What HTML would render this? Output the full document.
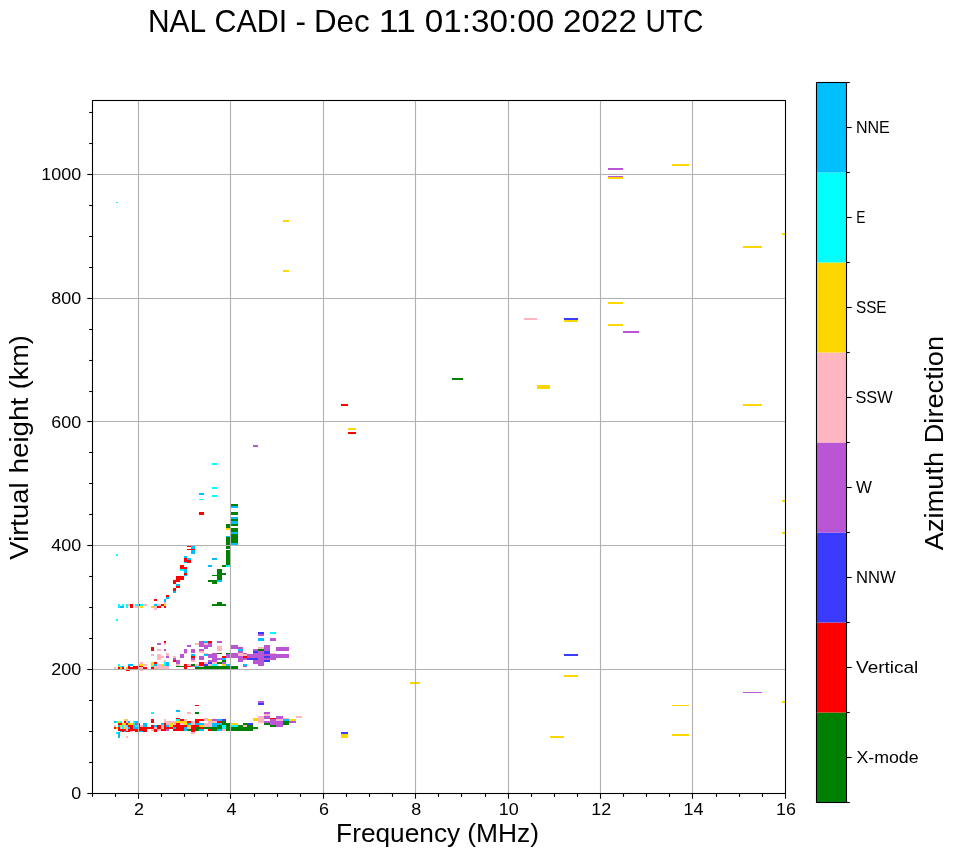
<!DOCTYPE html>
<html><head><meta charset="utf-8"><style>
html,body{margin:0;padding:0;background:#fff;width:958px;height:857px;overflow:hidden}
svg{display:block;will-change:transform}
text{font-family:"Liberation Sans",sans-serif}
</style></head><body>
<svg width="958" height="857" viewBox="0 0 958 857">
<rect width="958" height="857" fill="#fff"/>
<g shape-rendering="crispEdges"><rect x="116" y="202" width="2" height="1.3" fill="#00ffff"/><rect x="283" y="220" width="6" height="2" fill="#ffd700"/><rect x="283" y="270" width="6" height="2" fill="#ffd700"/><rect x="341" y="404" width="7" height="2" fill="#ff0000"/><rect x="348" y="428" width="8" height="2" fill="#ffd700"/><rect x="348" y="432" width="8" height="2" fill="#ff0000"/><rect x="452" y="378" width="11" height="2" fill="#008000"/><rect x="524" y="318" width="13" height="2" fill="#ffb6c1"/><rect x="564" y="318" width="14" height="2" fill="#3b3bff"/><rect x="564" y="320" width="14" height="2" fill="#ffd700"/><rect x="537" y="385" width="13" height="4" fill="#ffd700"/><rect x="608" y="168" width="15" height="2" fill="#ba55d3"/><rect x="608" y="176" width="15" height="1" fill="#ba55d3"/><rect x="608" y="177" width="15" height="2" fill="#ffd700"/><rect x="672" y="164" width="17" height="2" fill="#ffd700"/><rect x="608" y="302" width="15" height="2" fill="#ffd700"/><rect x="608" y="324" width="15" height="2" fill="#ffd700"/><rect x="623" y="331" width="16" height="2" fill="#ba55d3"/><rect x="743" y="246" width="19" height="2" fill="#ffd700"/><rect x="782" y="233" width="4" height="2" fill="#ffd700"/><rect x="743" y="404" width="19" height="2" fill="#ffd700"/><rect x="782" y="500" width="4" height="2" fill="#ffd700"/><rect x="782" y="532" width="4" height="2" fill="#ffd700"/><rect x="564" y="654" width="14" height="2" fill="#3b3bff"/><rect x="564" y="675" width="14" height="2" fill="#ffd700"/><rect x="550" y="736" width="14" height="2" fill="#ffd700"/><rect x="672" y="705" width="17" height="1.3" fill="#ffd700"/><rect x="672" y="734" width="17" height="2" fill="#ffd700"/><rect x="743" y="692" width="19" height="1.2" fill="#ba55d3"/><rect x="782" y="701" width="4" height="2" fill="#ffd700"/><rect x="410" y="682" width="10" height="2" fill="#ffd700"/><rect x="253" y="445" width="5" height="2" fill="#ba55d3"/><rect x="212" y="463" width="5" height="2" fill="#00ffff"/><rect x="212" y="487" width="5" height="2" fill="#00ffff"/><rect x="212" y="495" width="5" height="2" fill="#00ffff"/><rect x="199" y="493" width="5" height="2" fill="#00bfff"/><rect x="199" y="499" width="5" height="1.2" fill="#00ffff"/><rect x="199" y="512" width="5" height="3" fill="#ff0000"/><rect x="231" y="504" width="7" height="2" fill="#008000"/><rect x="231" y="506" width="7" height="2" fill="#00bfff"/><rect x="231" y="512" width="7" height="3" fill="#008000"/><rect x="231" y="517" width="7" height="2" fill="#00bfff"/><rect x="231" y="519" width="7" height="2" fill="#008000"/><rect x="231" y="521" width="7" height="3" fill="#00bfff"/><rect x="231" y="524" width="7" height="2" fill="#008000"/><rect x="231" y="528" width="7" height="4" fill="#008000"/><rect x="231" y="532" width="7" height="2" fill="#00bfff"/><rect x="231" y="534" width="7" height="9" fill="#008000"/><rect x="231" y="543" width="7" height="2" fill="#00bfff"/><rect x="226" y="524" width="4" height="4" fill="#008000"/><rect x="226" y="528" width="4" height="2" fill="#ffd700"/><rect x="226" y="536" width="4" height="1" fill="#00bfff"/><rect x="226" y="537" width="4" height="8" fill="#008000"/><rect x="226" y="546" width="4" height="3" fill="#008000"/><rect x="226" y="550" width="4" height="15" fill="#008000"/><rect x="226" y="565" width="4" height="2" fill="#00ffff"/><rect x="222" y="565" width="4" height="2" fill="#008000"/><rect x="208" y="565" width="4" height="2" fill="#00bfff"/><rect x="212" y="558" width="5" height="2" fill="#00bfff"/><rect x="217" y="569" width="5" height="11" fill="#008000"/><rect x="222" y="573" width="4" height="2" fill="#008000"/><rect x="212" y="575" width="5" height="1.2" fill="#008000"/><rect x="217" y="580" width="5" height="2" fill="#00bfff"/><rect x="208" y="580" width="9" height="2" fill="#008000"/><rect x="212" y="582" width="5" height="2" fill="#008000"/><rect x="187" y="546" width="4" height="1.2" fill="#ff0000"/><rect x="191" y="546" width="4" height="8" fill="#00bfff"/><rect x="187" y="549" width="8" height="1.2" fill="#ff0000"/><rect x="184" y="556" width="3" height="2" fill="#00bfff"/><rect x="184" y="558" width="3" height="4" fill="#ff0000"/><rect x="187" y="558" width="4" height="2" fill="#00bfff"/><rect x="187" y="560" width="4" height="3" fill="#ff0000"/><rect x="184" y="562" width="3" height="1" fill="#00bfff"/><rect x="180" y="565" width="4" height="4" fill="#ff0000"/><rect x="184" y="567" width="3" height="2" fill="#ff0000"/><rect x="180" y="569" width="4" height="2" fill="#00ffff"/><rect x="184" y="569" width="3" height="4" fill="#00bfff"/><rect x="184" y="573" width="3" height="2" fill="#ff0000"/><rect x="184" y="575" width="3" height="1" fill="#00bfff"/><rect x="176" y="576" width="8" height="4" fill="#ff0000"/><rect x="173" y="580" width="7" height="2" fill="#ff0000"/><rect x="173" y="582" width="3" height="2" fill="#ff0000"/><rect x="176" y="584" width="4" height="2" fill="#00bfff"/><rect x="176" y="586" width="4" height="2" fill="#ff0000"/><rect x="173" y="588" width="3" height="3" fill="#ff0000"/><rect x="173" y="591" width="3" height="2" fill="#00bfff"/><rect x="166" y="595" width="3" height="2" fill="#ff0000"/><rect x="166" y="597" width="3" height="2" fill="#00bfff"/><rect x="164" y="599" width="2" height="3" fill="#00bfff"/><rect x="164" y="602" width="2" height="2" fill="#ffb6c1"/><rect x="164" y="604" width="2" height="2" fill="#ffd700"/><rect x="164" y="606" width="2" height="2" fill="#ff0000"/><rect x="161" y="604" width="3" height="2" fill="#ff0000"/><rect x="157" y="606" width="4" height="2" fill="#ff0000"/><rect x="157" y="604" width="4" height="2" fill="#ffb6c1"/><rect x="154" y="604" width="3" height="2" fill="#00bfff"/><rect x="154" y="606" width="3" height="4" fill="#ffb6c1"/><rect x="151" y="606" width="3" height="2" fill="#ffd700"/><rect x="154" y="599" width="3" height="2" fill="#ff0000"/><rect x="143" y="604" width="4" height="2" fill="#ffb6c1"/><rect x="140" y="604" width="3" height="2" fill="#00ffff"/><rect x="139" y="604" width="1" height="2" fill="#ff0000"/><rect x="140" y="606" width="3" height="2" fill="#ffd700"/><rect x="135" y="604" width="3" height="2" fill="#00ffff"/><rect x="135" y="606" width="3" height="2" fill="#ffb6c1"/><rect x="118" y="604" width="2" height="4" fill="#00ffff"/><rect x="122" y="604" width="2" height="2" fill="#00ffff"/><rect x="120" y="606" width="4" height="2" fill="#00bfff"/><rect x="126" y="604" width="2" height="4" fill="#00ffff"/><rect x="128" y="604" width="2" height="2" fill="#ffb6c1"/><rect x="130" y="604" width="3" height="4" fill="#ff0000"/><rect x="116" y="619" width="2" height="2" fill="#00ffff"/><rect x="116" y="554" width="2" height="2" fill="#00ffff"/><rect x="212" y="604" width="14" height="2" fill="#008000"/><rect x="217" y="602" width="5" height="2" fill="#008000"/><rect x="114" y="667" width="2" height="2" fill="#ffb6c1"/><rect x="118" y="664" width="2" height="2" fill="#00ffff"/><rect x="118" y="666" width="2" height="1" fill="#ffd700"/><rect x="118" y="667" width="2" height="2" fill="#ff0000"/><rect x="120" y="666" width="2" height="1" fill="#00ffff"/><rect x="120" y="667" width="2" height="2" fill="#ffd700"/><rect x="122" y="666" width="2" height="1" fill="#00bfff"/><rect x="122" y="667" width="2" height="2" fill="#ff0000"/><rect x="126" y="667" width="2" height="2" fill="#ffd700"/><rect x="128" y="664" width="5" height="2" fill="#00bfff"/><rect x="128" y="667" width="10" height="2" fill="#ff0000"/><rect x="128" y="666" width="2" height="1" fill="#ff0000"/><rect x="133" y="666" width="5" height="1" fill="#ff0000"/><rect x="126" y="670" width="4" height="1" fill="#ff0000"/><rect x="140" y="662" width="3" height="2" fill="#ffb6c1"/><rect x="139" y="664" width="4" height="2" fill="#ffd700"/><rect x="139" y="666" width="4" height="1" fill="#ff0000"/><rect x="139" y="667" width="1" height="2" fill="#ffd700"/><rect x="140" y="667" width="3" height="2" fill="#ffb6c1"/><rect x="143" y="664" width="4" height="2" fill="#ffb6c1"/><rect x="143" y="667" width="4" height="2" fill="#ff0000"/><rect x="140" y="670" width="3" height="1" fill="#ffb6c1"/><rect x="151" y="667" width="3" height="2" fill="#ff0000"/><rect x="151" y="666" width="3" height="1" fill="#00ffff"/><rect x="151" y="662" width="3" height="4" fill="#ffd700"/><rect x="154" y="662" width="3" height="2" fill="#ff0000"/><rect x="154" y="664" width="3" height="2" fill="#00bfff"/><rect x="154" y="666" width="11" height="3" fill="#ffb6c1"/><rect x="157" y="664" width="8" height="2" fill="#ffb6c1"/><rect x="161" y="664" width="3" height="2" fill="#ffd700"/><rect x="164" y="662" width="2" height="4" fill="#00ffff"/><rect x="164" y="660" width="2" height="2" fill="#ffb6c1"/><rect x="151" y="647" width="3" height="4" fill="#ff0000"/><rect x="151" y="654" width="3" height="2" fill="#ffb6c1"/><rect x="157" y="649" width="4" height="2" fill="#ffb6c1"/><rect x="157" y="654" width="4" height="6" fill="#ffb6c1"/><rect x="161" y="656" width="3" height="2" fill="#ffb6c1"/><rect x="157" y="643" width="4" height="2" fill="#ba55d3"/><rect x="164" y="641" width="2" height="2" fill="#ff0000"/><rect x="164" y="643" width="2" height="2" fill="#ffb6c1"/><rect x="164" y="649" width="2" height="2" fill="#ba55d3"/><rect x="199" y="641" width="5" height="6" fill="#ba55d3"/><rect x="204" y="641" width="4" height="2" fill="#00bfff"/><rect x="208" y="641" width="4" height="2" fill="#ff0000"/><rect x="195" y="643" width="4" height="2" fill="#ffb6c1"/><rect x="204" y="643" width="4" height="2" fill="#ffb6c1"/><rect x="208" y="643" width="4" height="4" fill="#ba55d3"/><rect x="187" y="645" width="4" height="2" fill="#ba55d3"/><rect x="199" y="645" width="13" height="2" fill="#ba55d3"/><rect x="204" y="647" width="4" height="2" fill="#ba55d3"/><rect x="184" y="649" width="3" height="4" fill="#ba55d3"/><rect x="191" y="649" width="4" height="4" fill="#ba55d3"/><rect x="199" y="649" width="5" height="2" fill="#ba55d3"/><rect x="199" y="651" width="5" height="2" fill="#ffb6c1"/><rect x="166" y="653" width="3" height="2" fill="#ffb6c1"/><rect x="184" y="653" width="3" height="1" fill="#ffb6c1"/><rect x="204" y="653" width="4" height="1" fill="#ffb6c1"/><rect x="166" y="655" width="3" height="1" fill="#ffb6c1"/><rect x="166" y="656" width="3" height="2" fill="#ba55d3"/><rect x="173" y="656" width="3" height="2" fill="#ffb6c1"/><rect x="180" y="654" width="4" height="4" fill="#ba55d3"/><rect x="191" y="654" width="4" height="2" fill="#00bfff"/><rect x="191" y="656" width="4" height="2" fill="#ff0000"/><rect x="199" y="656" width="5" height="4" fill="#ba55d3"/><rect x="204" y="654" width="4" height="2" fill="#00bfff"/><rect x="208" y="654" width="4" height="4" fill="#ba55d3"/><rect x="212" y="653" width="5" height="9" fill="#ba55d3"/><rect x="173" y="658" width="3" height="2" fill="#ba55d3"/><rect x="173" y="660" width="3" height="2" fill="#ff0000"/><rect x="164" y="660" width="2" height="2" fill="#ffb6c1"/><rect x="176" y="660" width="4" height="4" fill="#ba55d3"/><rect x="191" y="660" width="4" height="2" fill="#ffb6c1"/><rect x="191" y="658" width="4" height="2" fill="#ba55d3"/><rect x="208" y="660" width="9" height="2" fill="#ba55d3"/><rect x="208" y="662" width="4" height="2" fill="#3b3bff"/><rect x="204" y="662" width="4" height="2" fill="#ffb6c1"/><rect x="212" y="662" width="5" height="2" fill="#ffb6c1"/><rect x="199" y="662" width="5" height="4" fill="#ff0000"/><rect x="161" y="664" width="3" height="2" fill="#ffd700"/><rect x="164" y="662" width="2" height="4" fill="#00ffff"/><rect x="166" y="662" width="3" height="4" fill="#00bfff"/><rect x="166" y="666" width="3" height="1" fill="#ff0000"/><rect x="160" y="666" width="9" height="3" fill="#ffb6c1"/><rect x="176" y="664" width="4" height="2" fill="#ffb6c1"/><rect x="176" y="666" width="8" height="1" fill="#008000"/><rect x="184" y="664" width="3" height="5" fill="#ff0000"/><rect x="187" y="664" width="4" height="2" fill="#ffb6c1"/><rect x="187" y="666" width="4" height="1" fill="#ff0000"/><rect x="191" y="664" width="4" height="2" fill="#008000"/><rect x="191" y="666" width="4" height="1" fill="#ba55d3"/><rect x="195" y="664" width="4" height="2" fill="#ffb6c1"/><rect x="195" y="666" width="4" height="1" fill="#00bfff"/><rect x="195" y="667" width="25" height="2" fill="#008000"/><rect x="199" y="666" width="5" height="1" fill="#ffb6c1"/><rect x="204" y="664" width="4" height="2" fill="#3b3bff"/><rect x="208" y="664" width="4" height="2" fill="#ffb6c1"/><rect x="212" y="664" width="5" height="2" fill="#00ffff"/><rect x="204" y="666" width="16" height="1" fill="#008000"/><rect x="217" y="666" width="3" height="1" fill="#ffb6c1"/><rect x="160" y="643" width="1" height="2" fill="#ba55d3"/><rect x="160" y="649" width="1" height="2" fill="#ffb6c1"/><rect x="217" y="641" width="5" height="2" fill="#ba55d3"/><rect x="217" y="646" width="5" height="5" fill="#ffb6c1"/><rect x="217" y="653" width="5" height="1" fill="#008000"/><rect x="215" y="653" width="2" height="9" fill="#ba55d3"/><rect x="217" y="658" width="5" height="2" fill="#ba55d3"/><rect x="222" y="656" width="4" height="2" fill="#ff0000"/><rect x="222" y="658" width="4" height="2" fill="#00bfff"/><rect x="222" y="660" width="4" height="2" fill="#008000"/><rect x="222" y="662" width="4" height="2" fill="#ba55d3"/><rect x="217" y="662" width="5" height="2" fill="#008000"/><rect x="215" y="662" width="2" height="2" fill="#ffb6c1"/><rect x="215" y="664" width="2" height="2" fill="#00ffff"/><rect x="217" y="666" width="5" height="1" fill="#ffb6c1"/><rect x="222" y="664" width="4" height="2" fill="#ffd700"/><rect x="226" y="664" width="4" height="2" fill="#00bfff"/><rect x="226" y="653" width="4" height="1" fill="#008000"/><rect x="226" y="654" width="4" height="4" fill="#ba55d3"/><rect x="215" y="666" width="15" height="3" fill="#008000"/><rect x="231" y="666" width="7" height="3" fill="#008000"/><rect x="231" y="645" width="7" height="4" fill="#ba55d3"/><rect x="238" y="647" width="5" height="2" fill="#ba55d3"/><rect x="238" y="649" width="5" height="2" fill="#00bfff"/><rect x="238" y="651" width="5" height="2" fill="#ba55d3"/><rect x="238" y="653" width="5" height="3" fill="#ffb6c1"/><rect x="243" y="654" width="4" height="2" fill="#ffb6c1"/><rect x="243" y="653" width="4" height="1" fill="#ba55d3"/><rect x="231" y="653" width="7" height="5" fill="#ba55d3"/><rect x="238" y="656" width="5" height="6" fill="#ba55d3"/><rect x="243" y="656" width="4" height="2" fill="#ff0000"/><rect x="243" y="658" width="4" height="2" fill="#ba55d3"/><rect x="247" y="658" width="8" height="2" fill="#3b3bff"/><rect x="247" y="654" width="8" height="4" fill="#ba55d3"/><rect x="253" y="649" width="2" height="2" fill="#ba55d3"/><rect x="253" y="651" width="2" height="2" fill="#3b3bff"/><rect x="253" y="660" width="2" height="4" fill="#ba55d3"/><rect x="243" y="664" width="4" height="2" fill="#00bfff"/><rect x="243" y="666" width="4" height="1" fill="#ba55d3"/><rect x="258" y="632" width="6" height="2" fill="#3b3bff"/><rect x="258" y="634" width="6" height="2" fill="#ba55d3"/><rect x="270" y="632" width="6" height="2" fill="#00ffff"/><rect x="258" y="638" width="6" height="3" fill="#00bfff"/><rect x="270" y="638" width="6" height="3" fill="#ba55d3"/><rect x="264" y="645" width="6" height="6" fill="#ba55d3"/><rect x="258" y="647" width="6" height="2" fill="#ffb6c1"/><rect x="258" y="649" width="6" height="2" fill="#008000"/><rect x="253" y="649" width="5" height="2" fill="#ba55d3"/><rect x="253" y="651" width="5" height="2" fill="#3b3bff"/><rect x="264" y="651" width="6" height="3" fill="#3b3bff"/><rect x="276" y="647" width="13" height="4" fill="#ba55d3"/><rect x="270" y="653" width="6" height="1" fill="#ffb6c1"/><rect x="250" y="654" width="39" height="4" fill="#ba55d3"/><rect x="264" y="656" width="6" height="2" fill="#3b3bff"/><rect x="250" y="658" width="8" height="2" fill="#3b3bff"/><rect x="258" y="658" width="18" height="2" fill="#ba55d3"/><rect x="253" y="660" width="11" height="4" fill="#ba55d3"/><rect x="264" y="660" width="6" height="2" fill="#3b3bff"/><rect x="258" y="664" width="6" height="2" fill="#ba55d3"/><rect x="124" y="719" width="2" height="2" fill="#ffd700"/><rect x="126" y="719" width="2" height="2" fill="#ffb6c1"/><rect x="114" y="721" width="2" height="2" fill="#00bfff"/><rect x="116" y="721" width="2" height="2" fill="#00ffff"/><rect x="118" y="721" width="2" height="2" fill="#ffd700"/><rect x="120" y="721" width="2" height="2" fill="#00ffff"/><rect x="124" y="721" width="2" height="2" fill="#ff0000"/><rect x="126" y="721" width="2" height="2" fill="#ffb6c1"/><rect x="128" y="721" width="2" height="2" fill="#00bfff"/><rect x="133" y="721" width="2" height="2" fill="#00ffff"/><rect x="135" y="721" width="3" height="2" fill="#00bfff"/><rect x="118" y="723" width="4" height="2" fill="#ff0000"/><rect x="122" y="723" width="4" height="2" fill="#ffd700"/><rect x="126" y="723" width="2" height="2" fill="#ff0000"/><rect x="128" y="723" width="5" height="2" fill="#ffd700"/><rect x="133" y="723" width="2" height="2" fill="#00ffff"/><rect x="135" y="723" width="3" height="2" fill="#ba55d3"/><rect x="139" y="723" width="1" height="2" fill="#ff0000"/><rect x="114" y="725" width="2" height="2" fill="#ffb6c1"/><rect x="118" y="725" width="2" height="2" fill="#00bfff"/><rect x="120" y="725" width="2" height="2" fill="#ffd700"/><rect x="122" y="725" width="2" height="2" fill="#00ffff"/><rect x="124" y="725" width="2" height="2" fill="#ffb6c1"/><rect x="126" y="725" width="2" height="2" fill="#00ffff"/><rect x="128" y="725" width="5" height="2" fill="#ff0000"/><rect x="133" y="725" width="2" height="2" fill="#00bfff"/><rect x="135" y="725" width="3" height="2" fill="#00ffff"/><rect x="139" y="725" width="1" height="2" fill="#ff0000"/><rect x="140" y="725" width="3" height="2" fill="#ffb6c1"/><rect x="143" y="723" width="4" height="4" fill="#00bfff"/><rect x="114" y="727" width="2" height="2" fill="#ff0000"/><rect x="116" y="727" width="2" height="2" fill="#ffd700"/><rect x="118" y="727" width="2" height="2" fill="#ff0000"/><rect x="120" y="727" width="2" height="2" fill="#ffb6c1"/><rect x="122" y="727" width="2" height="2" fill="#00ffff"/><rect x="124" y="727" width="2" height="2" fill="#ffd700"/><rect x="126" y="727" width="2" height="2" fill="#ffb6c1"/><rect x="128" y="727" width="2" height="2" fill="#00bfff"/><rect x="130" y="727" width="3" height="2" fill="#ff0000"/><rect x="133" y="727" width="5" height="2" fill="#00bfff"/><rect x="139" y="727" width="9" height="2" fill="#ff0000"/><rect x="118" y="729" width="8" height="2" fill="#ff0000"/><rect x="126" y="729" width="2" height="2" fill="#ffb6c1"/><rect x="128" y="729" width="10" height="2" fill="#ff0000"/><rect x="139" y="729" width="8" height="2" fill="#ff0000"/><rect x="120" y="731" width="2" height="1" fill="#00bfff"/><rect x="122" y="731" width="2" height="1" fill="#ff0000"/><rect x="124" y="731" width="2" height="1" fill="#00bfff"/><rect x="126" y="731" width="4" height="1" fill="#ff0000"/><rect x="130" y="731" width="3" height="1" fill="#ffb6c1"/><rect x="135" y="731" width="3" height="1" fill="#ff0000"/><rect x="139" y="731" width="4" height="1" fill="#00bfff"/><rect x="143" y="731" width="4" height="1" fill="#ff0000"/><rect x="116" y="732" width="2" height="2" fill="#00ffff"/><rect x="118" y="732" width="2" height="6" fill="#00bfff"/><rect x="126" y="736" width="2" height="2" fill="#ffb6c1"/><rect x="176" y="710" width="4" height="2" fill="#00bfff"/><rect x="151" y="712" width="3" height="2" fill="#00ffff"/><rect x="151" y="719" width="3" height="4" fill="#ff0000"/><rect x="176" y="718" width="4" height="1" fill="#ff0000"/><rect x="176" y="719" width="4" height="2" fill="#00ffff"/><rect x="180" y="719" width="4" height="2" fill="#ff0000"/><rect x="184" y="719" width="2" height="2" fill="#ffb6c1"/><rect x="164" y="719" width="2" height="2" fill="#ffb6c1"/><rect x="164" y="721" width="12" height="2" fill="#ffb6c1"/><rect x="176" y="721" width="10" height="2" fill="#ffd700"/><rect x="184" y="723" width="2" height="2" fill="#ffd700"/><rect x="146" y="723" width="1" height="4" fill="#00bfff"/><rect x="161" y="723" width="3" height="2" fill="#00bfff"/><rect x="164" y="723" width="2" height="6" fill="#ff0000"/><rect x="166" y="723" width="3" height="2" fill="#ffb6c1"/><rect x="169" y="723" width="4" height="4" fill="#ffd700"/><rect x="173" y="723" width="3" height="2" fill="#ffb6c1"/><rect x="176" y="723" width="4" height="2" fill="#ff0000"/><rect x="180" y="723" width="4" height="2" fill="#ffb6c1"/><rect x="151" y="725" width="3" height="2" fill="#ff0000"/><rect x="154" y="725" width="3" height="2" fill="#00bfff"/><rect x="157" y="725" width="4" height="4" fill="#ff0000"/><rect x="161" y="725" width="3" height="4" fill="#ffb6c1"/><rect x="166" y="725" width="3" height="2" fill="#00bfff"/><rect x="173" y="725" width="13" height="2" fill="#ff0000"/><rect x="146" y="727" width="8" height="2" fill="#ff0000"/><rect x="154" y="727" width="3" height="2" fill="#ffb6c1"/><rect x="166" y="727" width="7" height="2" fill="#ff0000"/><rect x="173" y="727" width="3" height="2" fill="#00bfff"/><rect x="176" y="727" width="8" height="4" fill="#ff0000"/><rect x="184" y="727" width="2" height="4" fill="#00bfff"/><rect x="146" y="729" width="1" height="3" fill="#ff0000"/><rect x="151" y="729" width="3" height="2" fill="#ffb6c1"/><rect x="154" y="729" width="3" height="3" fill="#ff0000"/><rect x="157" y="729" width="4" height="2" fill="#ffb6c1"/><rect x="161" y="729" width="5" height="2" fill="#ff0000"/><rect x="166" y="729" width="3" height="2" fill="#ba55d3"/><rect x="173" y="729" width="3" height="2" fill="#ff0000"/><rect x="195" y="705" width="4" height="1" fill="#ff0000"/><rect x="187" y="712" width="4" height="2" fill="#ffb6c1"/><rect x="195" y="712" width="4" height="2" fill="#008000"/><rect x="185" y="719" width="2" height="2" fill="#ffb6c1"/><rect x="195" y="719" width="9" height="2" fill="#ff0000"/><rect x="204" y="718" width="4" height="3" fill="#ffb6c1"/><rect x="208" y="719" width="4" height="2" fill="#ffd700"/><rect x="212" y="719" width="5" height="2" fill="#ba55d3"/><rect x="217" y="719" width="5" height="2" fill="#00bfff"/><rect x="222" y="719" width="3" height="2" fill="#3b3bff"/><rect x="185" y="721" width="2" height="4" fill="#ffd700"/><rect x="187" y="721" width="4" height="2" fill="#ff0000"/><rect x="191" y="721" width="4" height="4" fill="#ffb6c1"/><rect x="195" y="721" width="4" height="2" fill="#ff0000"/><rect x="208" y="721" width="9" height="2" fill="#ffb6c1"/><rect x="217" y="721" width="5" height="2" fill="#ff0000"/><rect x="222" y="721" width="3" height="4" fill="#008000"/><rect x="187" y="723" width="4" height="2" fill="#00bfff"/><rect x="195" y="723" width="9" height="2" fill="#00bfff"/><rect x="204" y="723" width="8" height="4" fill="#ffb6c1"/><rect x="212" y="723" width="10" height="2" fill="#00bfff"/><rect x="185" y="725" width="2" height="2" fill="#ff0000"/><rect x="187" y="725" width="4" height="2" fill="#ffd700"/><rect x="191" y="725" width="8" height="2" fill="#ff0000"/><rect x="199" y="725" width="5" height="2" fill="#ffd700"/><rect x="212" y="725" width="5" height="2" fill="#00bfff"/><rect x="217" y="725" width="5" height="4" fill="#008000"/><rect x="222" y="725" width="3" height="4" fill="#00ffff"/><rect x="185" y="727" width="2" height="4" fill="#00bfff"/><rect x="187" y="727" width="4" height="2" fill="#ffb6c1"/><rect x="191" y="727" width="4" height="5" fill="#ff0000"/><rect x="195" y="727" width="4" height="4" fill="#008000"/><rect x="199" y="727" width="5" height="2" fill="#ff0000"/><rect x="204" y="727" width="18" height="2" fill="#008000"/><rect x="187" y="729" width="4" height="2" fill="#008000"/><rect x="199" y="729" width="5" height="2" fill="#00bfff"/><rect x="208" y="729" width="4" height="2" fill="#ff0000"/><rect x="212" y="729" width="5" height="2" fill="#008000"/><rect x="217" y="729" width="5" height="2" fill="#00bfff"/><rect x="222" y="729" width="3" height="2" fill="#ffb6c1"/><rect x="191" y="732" width="4" height="2" fill="#ffb6c1"/><rect x="258" y="701" width="6" height="2" fill="#ba55d3"/><rect x="258" y="703" width="6" height="2" fill="#3b3bff"/><rect x="258" y="716" width="6" height="7" fill="#ffb6c1"/><rect x="253" y="718" width="5" height="3" fill="#ffd700"/><rect x="224" y="719" width="2" height="2" fill="#3b3bff"/><rect x="224" y="721" width="2" height="4" fill="#008000"/><rect x="226" y="723" width="4" height="8" fill="#008000"/><rect x="224" y="725" width="2" height="4" fill="#00ffff"/><rect x="224" y="729" width="2" height="2" fill="#ffb6c1"/><rect x="231" y="723" width="7" height="2" fill="#ffd700"/><rect x="231" y="725" width="7" height="2" fill="#00ffff"/><rect x="231" y="727" width="22" height="4" fill="#008000"/><rect x="238" y="725" width="5" height="2" fill="#008000"/><rect x="243" y="723" width="4" height="2" fill="#008000"/><rect x="243" y="725" width="4" height="2" fill="#ffb6c1"/><rect x="247" y="723" width="6" height="2" fill="#3b3bff"/><rect x="247" y="725" width="6" height="2" fill="#008000"/><rect x="253" y="727" width="5" height="2" fill="#008000"/><rect x="264" y="712" width="6" height="2" fill="#ba55d3"/><rect x="264" y="714" width="6" height="2" fill="#ffb6c1"/><rect x="264" y="716" width="6" height="3" fill="#ba55d3"/><rect x="264" y="721" width="6" height="2" fill="#ba55d3"/><rect x="264" y="723" width="6" height="2" fill="#008000"/><rect x="270" y="718" width="6" height="1" fill="#ff0000"/><rect x="270" y="719" width="6" height="6" fill="#ba55d3"/><rect x="270" y="725" width="6" height="2" fill="#008000"/><rect x="276" y="716" width="7" height="3" fill="#ba55d3"/><rect x="276" y="719" width="7" height="2" fill="#ffb6c1"/><rect x="276" y="721" width="7" height="6" fill="#ba55d3"/><rect x="283" y="718" width="6" height="1" fill="#ffb6c1"/><rect x="283" y="719" width="6" height="2" fill="#00bfff"/><rect x="283" y="721" width="6" height="4" fill="#008000"/><rect x="289" y="719" width="7" height="2" fill="#ffd700"/><rect x="289" y="721" width="7" height="2" fill="#ba55d3"/><rect x="296" y="716" width="6" height="2" fill="#ffb6c1"/><rect x="341" y="732" width="7" height="2" fill="#3b3bff"/><rect x="341" y="734" width="7" height="4" fill="#ffd700"/><rect x="253" y="653" width="5" height="1" fill="#ba55d3"/><rect x="258" y="651" width="6" height="3" fill="#ba55d3"/></g>
<g stroke="#b0b0b0" stroke-width="1.1"><line x1="138.50" y1="100.50" x2="138.50" y2="793.50"/><line x1="230.50" y1="100.50" x2="230.50" y2="793.50"/><line x1="323.50" y1="100.50" x2="323.50" y2="793.50"/><line x1="415.50" y1="100.50" x2="415.50" y2="793.50"/><line x1="508.50" y1="100.50" x2="508.50" y2="793.50"/><line x1="600.50" y1="100.50" x2="600.50" y2="793.50"/><line x1="692.50" y1="100.50" x2="692.50" y2="793.50"/><line x1="92.50" y1="669.50" x2="785.50" y2="669.50"/><line x1="92.50" y1="545.50" x2="785.50" y2="545.50"/><line x1="92.50" y1="421.50" x2="785.50" y2="421.50"/><line x1="92.50" y1="298.50" x2="785.50" y2="298.50"/><line x1="92.50" y1="174.50" x2="785.50" y2="174.50"/></g>
<g stroke="#000" stroke-width="1.1"><line x1="92.50" y1="793.50" x2="92.50" y2="796.80"/><line x1="115.50" y1="793.50" x2="115.50" y2="796.80"/><line x1="138.50" y1="793.50" x2="138.50" y2="798.70"/><line x1="161.50" y1="793.50" x2="161.50" y2="796.80"/><line x1="184.50" y1="793.50" x2="184.50" y2="796.80"/><line x1="207.50" y1="793.50" x2="207.50" y2="796.80"/><line x1="230.50" y1="793.50" x2="230.50" y2="798.70"/><line x1="254.50" y1="793.50" x2="254.50" y2="796.80"/><line x1="277.50" y1="793.50" x2="277.50" y2="796.80"/><line x1="300.50" y1="793.50" x2="300.50" y2="796.80"/><line x1="323.50" y1="793.50" x2="323.50" y2="798.70"/><line x1="346.50" y1="793.50" x2="346.50" y2="796.80"/><line x1="369.50" y1="793.50" x2="369.50" y2="796.80"/><line x1="392.50" y1="793.50" x2="392.50" y2="796.80"/><line x1="415.50" y1="793.50" x2="415.50" y2="798.70"/><line x1="438.50" y1="793.50" x2="438.50" y2="796.80"/><line x1="461.50" y1="793.50" x2="461.50" y2="796.80"/><line x1="485.50" y1="793.50" x2="485.50" y2="796.80"/><line x1="508.50" y1="793.50" x2="508.50" y2="798.70"/><line x1="531.50" y1="793.50" x2="531.50" y2="796.80"/><line x1="554.50" y1="793.50" x2="554.50" y2="796.80"/><line x1="577.50" y1="793.50" x2="577.50" y2="796.80"/><line x1="600.50" y1="793.50" x2="600.50" y2="798.70"/><line x1="623.50" y1="793.50" x2="623.50" y2="796.80"/><line x1="646.50" y1="793.50" x2="646.50" y2="796.80"/><line x1="669.50" y1="793.50" x2="669.50" y2="796.80"/><line x1="692.50" y1="793.50" x2="692.50" y2="798.70"/><line x1="716.50" y1="793.50" x2="716.50" y2="796.80"/><line x1="739.50" y1="793.50" x2="739.50" y2="796.80"/><line x1="762.50" y1="793.50" x2="762.50" y2="796.80"/><line x1="785.50" y1="793.50" x2="785.50" y2="798.70"/><line x1="92.50" y1="793.50" x2="87.30" y2="793.50"/><line x1="92.50" y1="762.50" x2="89.20" y2="762.50"/><line x1="92.50" y1="731.50" x2="89.20" y2="731.50"/><line x1="92.50" y1="700.50" x2="89.20" y2="700.50"/><line x1="92.50" y1="669.50" x2="87.30" y2="669.50"/><line x1="92.50" y1="638.50" x2="89.20" y2="638.50"/><line x1="92.50" y1="607.50" x2="89.20" y2="607.50"/><line x1="92.50" y1="576.50" x2="89.20" y2="576.50"/><line x1="92.50" y1="545.50" x2="87.30" y2="545.50"/><line x1="92.50" y1="514.50" x2="89.20" y2="514.50"/><line x1="92.50" y1="483.50" x2="89.20" y2="483.50"/><line x1="92.50" y1="452.50" x2="89.20" y2="452.50"/><line x1="92.50" y1="421.50" x2="87.30" y2="421.50"/><line x1="92.50" y1="391.50" x2="89.20" y2="391.50"/><line x1="92.50" y1="360.50" x2="89.20" y2="360.50"/><line x1="92.50" y1="329.50" x2="89.20" y2="329.50"/><line x1="92.50" y1="298.50" x2="87.30" y2="298.50"/><line x1="92.50" y1="267.50" x2="89.20" y2="267.50"/><line x1="92.50" y1="236.50" x2="89.20" y2="236.50"/><line x1="92.50" y1="205.50" x2="89.20" y2="205.50"/><line x1="92.50" y1="174.50" x2="87.30" y2="174.50"/><line x1="92.50" y1="143.50" x2="89.20" y2="143.50"/><line x1="92.50" y1="112.50" x2="89.20" y2="112.50"/></g>
<rect x="92.50" y="100.50" width="693.00" height="693.00" fill="none" stroke="#000" stroke-width="1.1"/>
<rect x="816.5" y="712.50" width="30.00" height="90.00" fill="#008000"/>
<rect x="816.5" y="622.50" width="30.00" height="90.00" fill="#ff0000"/>
<rect x="816.5" y="532.50" width="30.00" height="90.00" fill="#3b3bff"/>
<rect x="816.5" y="442.50" width="30.00" height="90.00" fill="#ba55d3"/>
<rect x="816.5" y="352.50" width="30.00" height="90.00" fill="#ffb6c1"/>
<rect x="816.5" y="262.50" width="30.00" height="90.00" fill="#ffd700"/>
<rect x="816.5" y="172.50" width="30.00" height="90.00" fill="#00ffff"/>
<rect x="816.5" y="82.50" width="30.00" height="90.00" fill="#00bfff"/>
<rect x="816.5" y="82.5" width="30.00" height="720.00" fill="none" stroke="#000" stroke-width="1.1"/>
<g stroke="#000" stroke-width="1.1"><line x1="846.5" y1="802.50" x2="849.80" y2="802.50"/><line x1="846.5" y1="712.50" x2="849.80" y2="712.50"/><line x1="846.5" y1="622.50" x2="849.80" y2="622.50"/><line x1="846.5" y1="532.50" x2="849.80" y2="532.50"/><line x1="846.5" y1="442.50" x2="849.80" y2="442.50"/><line x1="846.5" y1="352.50" x2="849.80" y2="352.50"/><line x1="846.5" y1="262.50" x2="849.80" y2="262.50"/><line x1="846.5" y1="172.50" x2="849.80" y2="172.50"/><line x1="846.5" y1="82.50" x2="849.80" y2="82.50"/><line x1="846.5" y1="757.50" x2="851.70" y2="757.50"/><line x1="846.5" y1="667.50" x2="851.70" y2="667.50"/><line x1="846.5" y1="577.50" x2="851.70" y2="577.50"/><line x1="846.5" y1="487.50" x2="851.70" y2="487.50"/><line x1="846.5" y1="397.50" x2="851.70" y2="397.50"/><line x1="846.5" y1="307.50" x2="851.70" y2="307.50"/><line x1="846.5" y1="217.50" x2="851.70" y2="217.50"/><line x1="846.5" y1="127.50" x2="851.70" y2="127.50"/></g>
<text transform="translate(139.01,814.70) scale(1.0800,1)"  font-size="16.60" text-anchor="middle">2</text>
<text transform="translate(231.44,814.70) scale(1.0800,1)"  font-size="16.60" text-anchor="middle">4</text>
<text transform="translate(323.87,814.70) scale(1.0800,1)"  font-size="16.60" text-anchor="middle">6</text>
<text transform="translate(416.29,814.70) scale(1.0800,1)"  font-size="16.60" text-anchor="middle">8</text>
<text transform="translate(508.72,814.70) scale(1.0800,1)"  font-size="16.60" text-anchor="middle">10</text>
<text transform="translate(601.15,814.70) scale(1.0800,1)"  font-size="16.60" text-anchor="middle">12</text>
<text transform="translate(693.57,814.70) scale(1.0800,1)"  font-size="16.60" text-anchor="middle">14</text>
<text transform="translate(786.00,814.70) scale(1.0800,1)"  font-size="16.60" text-anchor="middle">16</text>
<text transform="translate(81.20,798.80) scale(1.0800,1)"  font-size="16.60" text-anchor="end">0</text>
<text transform="translate(81.20,675.07) scale(1.0800,1)"  font-size="16.60" text-anchor="end">200</text>
<text transform="translate(81.20,551.34) scale(1.0800,1)"  font-size="16.60" text-anchor="end">400</text>
<text transform="translate(81.20,427.60) scale(1.0800,1)"  font-size="16.60" text-anchor="end">600</text>
<text transform="translate(81.20,303.87) scale(1.0800,1)"  font-size="16.60" text-anchor="end">800</text>
<text transform="translate(81.20,180.14) scale(1.0800,1)"  font-size="16.60" text-anchor="end">1000</text>
<text transform="translate(856.39,763.20) scale(1.0699,1)"  font-size="16.60" text-anchor="start">X-mode</text>
<text transform="translate(856.00,673.20) scale(1.1459,1)"  font-size="16.60" text-anchor="start">Vertical</text>
<text transform="translate(856.07,583.20) scale(1.0029,1)"  font-size="16.60" text-anchor="start">NNW</text>
<text transform="translate(856.00,493.20) scale(1.0165,1)"  font-size="16.60" text-anchor="start">W</text>
<text transform="translate(855.49,403.20) scale(0.9828,1)"  font-size="16.60" text-anchor="start">SSW</text>
<text transform="translate(855.94,313.20) scale(0.9223,1)"  font-size="16.60" text-anchor="start">SSE</text>
<text transform="translate(856.23,223.20) scale(0.8298,1)"  font-size="16.60" text-anchor="start">E</text>
<text transform="translate(855.88,133.20) scale(0.9673,1)"  font-size="16.60" text-anchor="start">NNE</text>
<text transform="translate(147.91,32.00) scale(0.9563,1)"  font-size="31.30" text-anchor="start">NAL</text>
<text transform="translate(214.61,32.00) scale(0.9723,1)"  font-size="31.30" text-anchor="start">CADI</text>
<text transform="translate(295.59,32.00) scale(1.0070,1)"  font-size="31.30" text-anchor="start">-</text>
<text transform="translate(314.00,32.00) scale(1.0002,1)"  font-size="31.30" text-anchor="start">Dec</text>
<text transform="translate(378.79,32.00) scale(1.1433,1)"  font-size="31.30" text-anchor="start">11</text>
<text transform="translate(424.75,32.00) scale(1.0626,1)"  font-size="31.30" text-anchor="start">01:30:00</text>
<text transform="translate(563.12,32.00) scale(1.0598,1)"  font-size="31.30" text-anchor="start">2022</text>
<text transform="translate(645.41,32.00) scale(0.9021,1)"  font-size="31.30" text-anchor="start">UTC</text>
<text transform="translate(336.12,842.00) scale(1.0340,1)"  font-size="25.40" text-anchor="start">Frequency</text>
<text transform="translate(467.33,842.00) scale(1.0380,1)"  font-size="25.40" text-anchor="start">(MHz)</text>
<text transform="translate(27.90,559.66) rotate(-90) scale(1.0799,1)"  font-size="25.40" text-anchor="start">Virtual</text>
<text transform="translate(27.90,473.59) rotate(-90) scale(1.0971,1)"  font-size="25.40" text-anchor="start">height</text>
<text transform="translate(27.90,389.32) rotate(-90) scale(1.0645,1)"  font-size="25.40" text-anchor="start">(km)</text>
<text transform="translate(942.90,550.19) rotate(-90) scale(1.0716,1)"  font-size="25.40" text-anchor="start">Azimuth</text>
<text transform="translate(942.90,443.33) rotate(-90) scale(1.0722,1)"  font-size="25.40" text-anchor="start">Direction</text>
</svg></body></html>
